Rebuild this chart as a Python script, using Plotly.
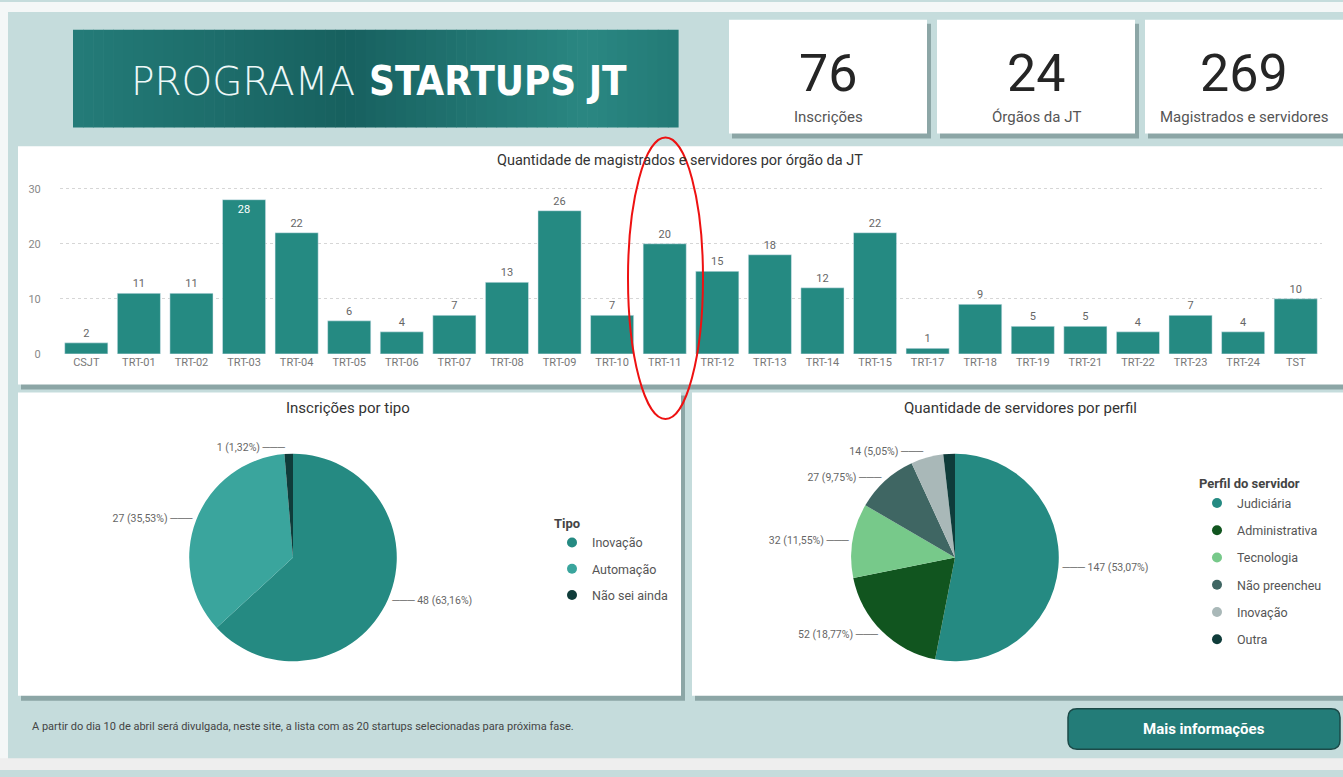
import plotly.graph_objects as go

# ---------------- DATA ----------------
orgaos = ["CSJT", "TRT-01", "TRT-02", "TRT-03", "TRT-04", "TRT-05", "TRT-06", "TRT-07",
          "TRT-08", "TRT-09", "TRT-10", "TRT-11", "TRT-12", "TRT-13", "TRT-14", "TRT-15",
          "TRT-17", "TRT-18", "TRT-19", "TRT-21", "TRT-22", "TRT-23", "TRT-24", "TST"]
qtd_orgao = [2, 11, 11, 28, 22, 6, 4, 7, 13, 26, 7, 20, 15, 18, 12, 22, 1, 9, 5, 5, 4, 7, 4, 10]

tipos = ["Inovação", "Automação", "Não sei ainda"]
qtd_tipo = [48, 27, 1]
cores_tipo = ["#258a82", "#3aa59d", "#0f3c3a"]

perfis = ["Judiciária", "Administrativa", "Tecnologia", "Não preencheu", "Inovação", "Outra"]
qtd_perfil = [147, 52, 32, 27, 14, 5]
cores_perfil = ["#258a82", "#11551f", "#77c98a", "#3f6663", "#a9b8b8", "#0f3c3a"]
rotulo_perfil = [True, True, True, True, True, False]

kpi_valores = ["76", "24", "269"]
kpi_rotulos = ["Inscrições", "Órgãos da JT", "Magistrados e servidores"]

titulo_a = "PROGRAMA"
titulo_b = "STARTUPS JT"
titulo_barras = "Quantidade de magistrados e servidores por órgão da JT"
titulo_pie1 = "Inscrições por tipo"
titulo_pie2 = "Quantidade de servidores por perfil"
texto_rodape = ("A partir do dia 10 de abril será divulgada, neste site, a lista com as 20 "
                "startups selecionadas para próxima fase.")
texto_botao = "Mais informações"

# ---------------- HELPERS ----------------
W, H = 1343, 777
def px(x): return x / W
def py(y): return 1 - y / H

def rect(x0, y0, x1, y1, fill, line=None, lw=0):
    return dict(type="rect", xref="paper", yref="paper",
                x0=px(x0), x1=px(x1), y0=py(y1), y1=py(y0),
                fillcolor=fill, line=dict(width=lw, color=line or fill), layer="below")

def rrect(x0, y0, x1, y1, r, fill, line, lw):
    rx, ry = r / W, r / H
    X0, X1, Y0, Y1 = px(x0), px(x1), py(y1), py(y0)
    p = (f"M{X0+rx},{Y0} L{X1-rx},{Y0} Q{X1},{Y0} {X1},{Y0+ry} L{X1},{Y1-ry} "
         f"Q{X1},{Y1} {X1-rx},{Y1} L{X0+rx},{Y1} Q{X0},{Y1} {X0},{Y1-ry} "
         f"L{X0},{Y0+ry} Q{X0},{Y0} {X0+rx},{Y0} Z")
    return dict(type="path", xref="paper", yref="paper", path=p,
                fillcolor=fill, line=dict(color=line, width=lw), layer="below")

def fmt_label(v, total):
    return f"{v} ({v/total*100:.2f}%)".replace(".", ",")

LEADER = "───"

def pie_texts(vals, show=None):
    total = sum(vals)
    out, cum = [], 0
    for i, v in enumerate(vals):
        mid = (cum + v / 2) / total
        cum += v
        if show is not None and not show[i]:
            out.append("")
            continue
        t = fmt_label(v, total)
        out.append(LEADER + " " + t if mid < 0.5 else t + " " + LEADER)
    return out

def lerp_col(stops, t):
    for (t0, c0), (t1, c1) in zip(stops, stops[1:]):
        if t0 <= t <= t1:
            f = (t - t0) / (t1 - t0) if t1 > t0 else 0
            c = [round(a + (b - a) * f) for a, b in zip(c0, c1)]
            return f"rgb({c[0]},{c[1]},{c[2]})"
    c = stops[-1][1]
    return f"rgb({c[0]},{c[1]},{c[2]})"

FONT = "Roboto, 'Noto Sans', sans-serif"
shadow = "rgba(70,100,100,0.45)"

def txt(x, y, text, size, color, family=FONT, xanchor="center", weight="normal"):
    return dict(x=px(x), y=py(y), xref="paper", yref="paper", showarrow=False,
                xanchor=xanchor, yanchor="middle", text=text,
                font=dict(family=family, size=size, color=color, weight=weight))

# ---------------- SHAPES ----------------
shapes = []
shapes.append(rect(0, 0, W, 10, "#f4f7f7"))
shapes.append(rect(0, 0, 8, H, "#f4f7f7"))
shapes.append(rect(0, 765, W, H, "#eeeeee"))
# banner with gradient strips
stops = [(0.0, (36, 124, 120)), (0.45, (23, 96, 95)), (0.85, (42, 135, 130)), (1.0, (35, 122, 118))]
bx0, bx1, n = 73, 678, 60
for i in range(n):
    a = bx0 + (bx1 - bx0) * i / n
    b = bx0 + (bx1 - bx0) * (i + 1) / n + 0.6
    shapes.append(rect(a, 28, b, 127, lerp_col(stops, (i + 0.5) / n)))
# kpi cards
for x0 in (729, 937, 1145):
    shapes.append(rect(x0 + 3, 22, x0 + 202, 138, shadow))
    shapes.append(rect(x0, 18, x0 + 198, 133, "white"))
# panels
shapes.append(rect(21, 150, W, 392, shadow))
shapes.append(rect(18, 146, W, 387, "white"))
shapes.append(rect(21, 398, 685, 707, shadow))
shapes.append(rect(18, 395, 681, 702, "white"))
shapes.append(rect(695, 398, W, 707, shadow))
shapes.append(rect(692, 395, W, 702, "white"))
# button
shapes.append(rrect(1068, 715, 1340, 756, 9, "#237c78", "#1b4a48", 1.5))
# red hand-drawn ellipse
shapes.append(dict(type="circle", xref="paper", yref="paper",
                   x0=px(628), x1=px(703), y0=py(422), y1=py(137),
                   line=dict(color="#ee1111", width=2), layer="above"))

# ---------------- ANNOTATIONS ----------------
ann = []
ann.append(txt(357, 80, titulo_a, 39, "#eef8f8",
               family="'DejaVu Sans', sans-serif", xanchor="right", weight=200))
ann.append(txt(367, 80, f"<b>{titulo_b}</b>", 40, "#ffffff",
               family="'DejaVu Sans Condensed', 'DejaVu Sans', sans-serif", xanchor="left"))
for cx, v, l in zip((828, 1036, 1244), kpi_valores, kpi_rotulos):
    ann.append(txt(cx, 72, v, 52, "#252525"))
    ann.append(txt(cx, 116, l, 15, "#555555"))
ann.append(txt(680, 160, titulo_barras, 14.5, "#333333"))
ann.append(txt(348, 411, titulo_pie1, 15, "#333333"))
ann.append(txt(1020, 411, titulo_pie2, 15, "#333333"))
ann.append(txt(30, 733, texto_rodape, 11, "#444444", xanchor="left"))
ann.append(txt(1204, 736, f"<b>{texto_botao}</b>", 15, "white"))

# ---------------- TRACES ----------------
fig = go.Figure()
vmax = max(qtd_orgao)
fig.add_trace(go.Bar(
    x=orgaos, y=qtd_orgao, marker_color="#258a82",
    text=[str(v) for v in qtd_orgao],
    textposition=["inside" if v == vmax else "outside" for v in qtd_orgao],
    insidetextanchor="end",
    textfont=dict(family=FONT, size=11,
                  color=["white" if v == vmax else "#666666" for v in qtd_orgao]),
    constraintext="none", cliponaxis=False, showlegend=False, hoverinfo="x+y"))

fig.add_trace(go.Pie(
    labels=tipos, values=qtd_tipo, marker=dict(colors=cores_tipo),
    text=pie_texts(qtd_tipo), textinfo="text", textposition="outside",
    textfont=dict(family=FONT, size=10.5, color="#666666"),
    direction="clockwise", sort=False, rotation=0, showlegend=False,
    domain=dict(x=[px(189), px(397)], y=[py(667), py(457)])))

fig.add_trace(go.Pie(
    labels=perfis, values=qtd_perfil, marker=dict(colors=cores_perfil),
    text=pie_texts(qtd_perfil, rotulo_perfil), textinfo="text", textposition="outside",
    textfont=dict(family=FONT, size=10.5, color="#666666"),
    direction="clockwise", sort=False, rotation=0, showlegend=False,
    domain=dict(x=[px(851), px(1059)], y=[py(667), py(457)])))

for i, (n_, c) in enumerate(zip(tipos, cores_tipo)):
    fig.add_trace(go.Scatter(x=[None], y=[None], mode="markers", name=n_,
                             marker=dict(symbol="circle", size=10, color=c),
                             legend="legend", legendgroup=f"t{i}", showlegend=True))
for i, (n_, c) in enumerate(zip(perfis, cores_perfil)):
    fig.add_trace(go.Scatter(x=[None], y=[None], mode="markers", name=n_,
                             marker=dict(symbol="circle", size=10, color=c),
                             legend="legend2", legendgroup=f"p{i}", showlegend=True))

leg_common = dict(bgcolor="rgba(0,0,0,0)", xanchor="left", yanchor="top",
                  font=dict(family=FONT, size=12.5, color="#555555"),
                  itemwidth=30, itemclick=False, itemdoubleclick=False)

fig.update_layout(
    width=W, height=H, autosize=False,
    margin=dict(l=0, r=0, t=0, b=0),
    paper_bgcolor="#c5dcdc", plot_bgcolor="rgba(0,0,0,0)",
    shapes=shapes, annotations=ann,
    bargap=0.18,
    xaxis=dict(domain=[px(60), px(1322)], showgrid=False, zeroline=False,
               tickfont=dict(family=FONT, size=11, color="#777777"), ticks="",
               showline=False, fixedrange=True),
    yaxis=dict(domain=[py(356), py(185)], range=[0, 30.7], tickvals=[0, 10, 20, 30],
               showgrid=True, gridcolor="#d6d6d6", griddash="dot", zeroline=False,
               tickfont=dict(family=FONT, size=11, color="#888888"),
               ticks="outside", ticklen=16, tickcolor="rgba(0,0,0,0)", fixedrange=True),
    legend=dict(x=px(552), y=py(515), tracegroupgap=7,
                title=dict(text="<b>Tipo</b>", font=dict(family=FONT, size=13, color="#444444")),
                **leg_common),
    legend2=dict(x=px(1197), y=py(475), tracegroupgap=8,
                 title=dict(text="<b>Perfil do servidor</b>",
                            font=dict(family=FONT, size=13, color="#444444")),
                 **leg_common),
    font=dict(family=FONT),
)

fig.write_html("out.html", config={"displayModeBar": False},
               post_script="document.body.style.margin='0px';")
